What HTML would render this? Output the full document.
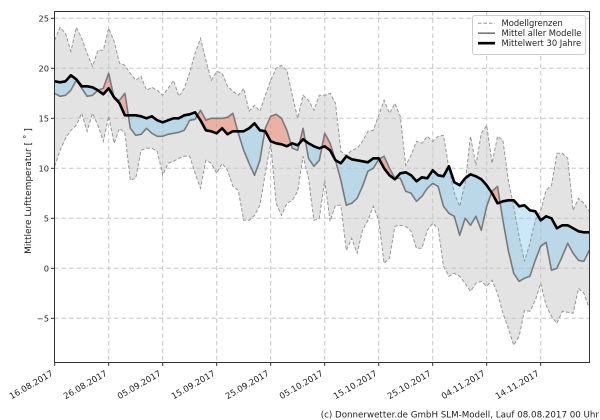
<!DOCTYPE html>
<html><head><meta charset="utf-8">
<style>html,body{margin:0;padding:0;background:#fff}svg{display:block}</style>
</head>
<body>
<svg width="600" height="420" viewBox="0 0 600 420" xmlns="http://www.w3.org/2000/svg" font-family="'DejaVu Sans','Liberation Sans',sans-serif">
<defs>
<clipPath id="plot"><rect x="54.5" y="11.5" width="535" height="351"/></clipPath>
<clipPath id="above" clipPathUnits="userSpaceOnUse"><polygon points="0,18.7 1,18.6 2,18.7 3,19.3 4,18.9 5,18.2 6,18.2 7,18.1 8,17.8 9,17.4 10,18 11,17.1 12,16.5 13,15.3 14,15.3 15,15.3 16,15.2 17,15 18,15.2 19,14.8 20,14.6 21,14.8 22,15 23,15 24,15.3 25,15.4 26,15.6 27,14.8 28,13.8 29,13.7 30,13.5 31,14 32,13.4 33,13.7 34,13.7 35,13.7 36,14 37,14.5 38,13.8 39,13.7 40,12.7 41,12.5 42,12.4 43,12.2 44,12.5 45,12.3 46,12.9 47,12.5 48,12.2 49,12 50,12.2 51,11.8 52,10.8 53,10.5 54,11.2 55,10.9 56,10.8 57,10.7 58,10.6 59,11 60,11 61,10 62,9.3 63,8.9 64,9.5 65,9.6 66,9.3 67,8.7 68,9.1 69,9 70,9.8 71,9.3 72,9.2 73,10.2 74,8.6 75,8.3 76,9 77,9.4 78,9.2 79,8.9 80,8.3 81,7.5 82,6.5 83,6.7 84,6.8 85,6.8 86,6.2 87,6.3 88,5.8 89,5.7 90,4.8 91,5.2 92,5 93,4 94,4.3 95,4.3 96,4 97,3.7 98,3.6 99,3.6 99,40 0,40"/></clipPath>
<clipPath id="below" clipPathUnits="userSpaceOnUse"><polygon points="0,18.7 1,18.6 2,18.7 3,19.3 4,18.9 5,18.2 6,18.2 7,18.1 8,17.8 9,17.4 10,18 11,17.1 12,16.5 13,15.3 14,15.3 15,15.3 16,15.2 17,15 18,15.2 19,14.8 20,14.6 21,14.8 22,15 23,15 24,15.3 25,15.4 26,15.6 27,14.8 28,13.8 29,13.7 30,13.5 31,14 32,13.4 33,13.7 34,13.7 35,13.7 36,14 37,14.5 38,13.8 39,13.7 40,12.7 41,12.5 42,12.4 43,12.2 44,12.5 45,12.3 46,12.9 47,12.5 48,12.2 49,12 50,12.2 51,11.8 52,10.8 53,10.5 54,11.2 55,10.9 56,10.8 57,10.7 58,10.6 59,11 60,11 61,10 62,9.3 63,8.9 64,9.5 65,9.6 66,9.3 67,8.7 68,9.1 69,9 70,9.8 71,9.3 72,9.2 73,10.2 74,8.6 75,8.3 76,9 77,9.4 78,9.2 79,8.9 80,8.3 81,7.5 82,6.5 83,6.7 84,6.8 85,6.8 86,6.2 87,6.3 88,5.8 89,5.7 90,4.8 91,5.2 92,5 93,4 94,4.3 95,4.3 96,4 97,3.7 98,3.6 99,3.6 99,-20 0,-20"/></clipPath>
</defs>
<rect width="600" height="420" fill="#fff"/>

<g clip-path="url(#plot)">
 <g transform="matrix(5.4 0 0 -10 54.7 268.3)">
  <polygon fill="#e3e3e3" points="0,22.8 1,24.1 2,23.5 3,21.7 4,24.1 5,23 6,21.5 7,20.2 8,21.8 9,21.8 10,24 11,22.7 12,20.5 13,20.3 14,19.5 15,18.8 16,19.2 17,17.8 18,18.1 19,17.8 20,17.3 21,18 22,18.8 23,17.2 24,18 25,19.6 26,21.5 27,23 28,20.8 29,18.8 30,19.7 31,19.5 32,18.2 33,17.7 34,17.3 35,18 36,15.7 37,16.3 38,15.7 39,17.3 40,18.8 41,20 42,20.3 43,19.8 44,17.3 45,15 46,17.3 47,16.8 48,15.8 49,17.3 50,17.3 51,17.5 52,16.5 53,11.7 54,11.3 55,11.8 56,12 57,12.7 58,13.7 59,13.8 60,15.3 61,16.8 62,15.5 63,16.5 64,15.2 65,10.3 66,11.3 67,12.7 68,12.5 69,13.2 70,12.7 71,13.2 72,13.3 73,10 74,7.5 75,6.2 76,8.5 77,13.2 78,10.3 79,13.5 80,14.3 81,10.5 82,13.2 83,12.8 84,8.8 85,6.2 86,3.2 87,0.7 88,2.5 89,4.8 90,5.8 91,7.8 92,8.3 93,11.5 94,11.5 95,11 96,5.8 97,7 98,6.5 99,5.7 99,-4 98,-2.5 97,-2 96,-4.5 95,-4.4 94,-4.3 93,-5.5 92,-4.8 91,-3.7 90,-1.5 89,-3.2 88,-4.3 87,-4.2 86,-6.8 85,-7.7 84,-6 83,-4.5 82,-2.5 81,-1.2 80,-1.8 79,-1.3 78,-1.5 77,-2.3 76,-1.5 75,-0.8 74,-0.5 73,-0.8 72,0.2 71,4 70,4.5 69,3.8 68,2 67,2 66,3.7 65,4.2 64,4.3 63,4.2 62,1 61,0.5 60,4.8 59,6.2 58,4.8 57,3.8 56,1.5 55,3 54,1.8 53,6.3 52,6.3 51,4.7 50,8.8 49,5 48,4.8 47,9 46,11.2 45,7.7 44,6.8 43,6.5 42,5.3 41,6.5 40,12.5 39,9.5 38,6.3 37,5.3 36,4.8 35,4.8 34,7.8 33,8.2 32,9.8 31,10.5 30,9.5 29,10.5 28,10.8 27,8 26,9.5 25,11.2 24,11.2 23,11 22,10.7 21,10.5 20,9.3 19,11.7 18,12 17,12 16,11.8 15,9 14,8.8 13,13.5 12,14 11,12.5 10,15.2 9,12.7 8,14.3 7,15.5 6,13.7 5,15.5 4,14.3 3,13.8 2,13 1,11.8 0,10.2"/>
 </g>

 <g stroke="#c6c6c6" stroke-width="1" stroke-dasharray="4.5,3" fill="none">
  <line x1="108.7" y1="11" x2="108.7" y2="363"/>
  <line x1="162.7" y1="11" x2="162.7" y2="363"/>
  <line x1="216.7" y1="11" x2="216.7" y2="363"/>
  <line x1="270.7" y1="11" x2="270.7" y2="363"/>
  <line x1="324.7" y1="11" x2="324.7" y2="363"/>
  <line x1="378.7" y1="11" x2="378.7" y2="363"/>
  <line x1="432.7" y1="11" x2="432.7" y2="363"/>
  <line x1="486.7" y1="11" x2="486.7" y2="363"/>
  <line x1="540.7" y1="11" x2="540.7" y2="363"/>
  <line x1="54" y1="18.3" x2="590" y2="18.3"/>
  <line x1="54" y1="68.3" x2="590" y2="68.3"/>
  <line x1="54" y1="118.3" x2="590" y2="118.3"/>
  <line x1="54" y1="168.3" x2="590" y2="168.3"/>
  <line x1="54" y1="218.3" x2="590" y2="218.3"/>
  <line x1="54" y1="268.3" x2="590" y2="268.3"/>
  <line x1="54" y1="318.3" x2="590" y2="318.3"/>
 </g>

 <g transform="matrix(5.4 0 0 -10 54.7 268.3)">
  <polygon fill="#80c8ec" fill-opacity="0.42" clip-path="url(#below)" points="0,17.5 1,17.2 2,17.3 3,17.8 4,18.8 5,18 6,17.2 7,17.3 8,17.8 9,18 10,19.5 11,17 12,16.8 13,17.5 14,14 15,13.3 16,13.4 17,14 18,13.5 19,13.2 20,13.2 21,13.4 22,13.5 23,13.6 24,13.8 25,14.8 26,14.9 27,15.8 28,14.8 29,15 30,15 31,15 32,15.1 33,15.5 34,13.5 35,11.8 36,10.5 37,9.3 38,10.8 39,14 40,15.2 41,15.4 42,15 43,13.8 44,12 45,11.8 46,14 47,11 48,10.2 49,10.8 50,13.5 51,12.5 52,10.8 53,8.8 54,6.3 55,6.5 56,7 57,8.2 58,9.7 59,10 60,10.9 61,11.2 62,10 63,9 64,9 65,7.7 66,7.5 67,6.7 68,7.2 69,8 70,8.5 71,8.2 72,6.2 73,5.5 74,5.2 75,3.3 76,5 77,4.3 78,5.2 79,3.8 80,6.2 81,7.7 82,8.2 83,4.8 84,1.8 85,-0.5 86,-1.3 87,-1 88,-0.8 89,0.8 90,2.2 91,2.6 92,-0.2 93,0 94,1.2 95,2.5 96,1.5 97,0.8 98,0.7 99,1.8 99,3.6 98,3.6 97,3.7 96,4 95,4.3 94,4.3 93,4 92,5 91,5.2 90,4.8 89,5.7 88,5.8 87,6.3 86,6.2 85,6.8 84,6.8 83,6.7 82,6.5 81,7.5 80,8.3 79,8.9 78,9.2 77,9.4 76,9 75,8.3 74,8.6 73,10.2 72,9.2 71,9.3 70,9.8 69,9 68,9.1 67,8.7 66,9.3 65,9.6 64,9.5 63,8.9 62,9.3 61,10 60,11 59,11 58,10.6 57,10.7 56,10.8 55,10.9 54,11.2 53,10.5 52,10.8 51,11.8 50,12.2 49,12 48,12.2 47,12.5 46,12.9 45,12.3 44,12.5 43,12.2 42,12.4 41,12.5 40,12.7 39,13.7 38,13.8 37,14.5 36,14 35,13.7 34,13.7 33,13.7 32,13.4 31,14 30,13.5 29,13.7 28,13.8 27,14.8 26,15.6 25,15.4 24,15.3 23,15 22,15 21,14.8 20,14.6 19,14.8 18,15.2 17,15 16,15.2 15,15.3 14,15.3 13,15.3 12,16.5 11,17.1 10,18 9,17.4 8,17.8 7,18.1 6,18.2 5,18.2 4,18.9 3,19.3 2,18.7 1,18.6 0,18.7"/>
  <polygon fill="#f47656" fill-opacity="0.45" clip-path="url(#above)" points="0,17.5 1,17.2 2,17.3 3,17.8 4,18.8 5,18 6,17.2 7,17.3 8,17.8 9,18 10,19.5 11,17 12,16.8 13,17.5 14,14 15,13.3 16,13.4 17,14 18,13.5 19,13.2 20,13.2 21,13.4 22,13.5 23,13.6 24,13.8 25,14.8 26,14.9 27,15.8 28,14.8 29,15 30,15 31,15 32,15.1 33,15.5 34,13.5 35,11.8 36,10.5 37,9.3 38,10.8 39,14 40,15.2 41,15.4 42,15 43,13.8 44,12 45,11.8 46,14 47,11 48,10.2 49,10.8 50,13.5 51,12.5 52,10.8 53,8.8 54,6.3 55,6.5 56,7 57,8.2 58,9.7 59,10 60,10.9 61,11.2 62,10 63,9 64,9 65,7.7 66,7.5 67,6.7 68,7.2 69,8 70,8.5 71,8.2 72,6.2 73,5.5 74,5.2 75,3.3 76,5 77,4.3 78,5.2 79,3.8 80,6.2 81,7.7 82,8.2 83,4.8 84,1.8 85,-0.5 86,-1.3 87,-1 88,-0.8 89,0.8 90,2.2 91,2.6 92,-0.2 93,0 94,1.2 95,2.5 96,1.5 97,0.8 98,0.7 99,1.8 99,3.6 98,3.6 97,3.7 96,4 95,4.3 94,4.3 93,4 92,5 91,5.2 90,4.8 89,5.7 88,5.8 87,6.3 86,6.2 85,6.8 84,6.8 83,6.7 82,6.5 81,7.5 80,8.3 79,8.9 78,9.2 77,9.4 76,9 75,8.3 74,8.6 73,10.2 72,9.2 71,9.3 70,9.8 69,9 68,9.1 67,8.7 66,9.3 65,9.6 64,9.5 63,8.9 62,9.3 61,10 60,11 59,11 58,10.6 57,10.7 56,10.8 55,10.9 54,11.2 53,10.5 52,10.8 51,11.8 50,12.2 49,12 48,12.2 47,12.5 46,12.9 45,12.3 44,12.5 43,12.2 42,12.4 41,12.5 40,12.7 39,13.7 38,13.8 37,14.5 36,14 35,13.7 34,13.7 33,13.7 32,13.4 31,14 30,13.5 29,13.7 28,13.8 27,14.8 26,15.6 25,15.4 24,15.3 23,15 22,15 21,14.8 20,14.6 19,14.8 18,15.2 17,15 16,15.2 15,15.3 14,15.3 13,15.3 12,16.5 11,17.1 10,18 9,17.4 8,17.8 7,18.1 6,18.2 5,18.2 4,18.9 3,19.3 2,18.7 1,18.6 0,18.7"/>

  <polyline fill="none" stroke="#7a7a7a" stroke-width="1.6" stroke-linejoin="round" vector-effect="non-scaling-stroke" points="0,17.5 1,17.2 2,17.3 3,17.8 4,18.8 5,18 6,17.2 7,17.3 8,17.8 9,18 10,19.5 11,17 12,16.8 13,17.5 14,14 15,13.3 16,13.4 17,14 18,13.5 19,13.2 20,13.2 21,13.4 22,13.5 23,13.6 24,13.8 25,14.8 26,14.9 27,15.8 28,14.8 29,15 30,15 31,15 32,15.1 33,15.5 34,13.5 35,11.8 36,10.5 37,9.3 38,10.8 39,14 40,15.2 41,15.4 42,15 43,13.8 44,12 45,11.8 46,14 47,11 48,10.2 49,10.8 50,13.5 51,12.5 52,10.8 53,8.8 54,6.3 55,6.5 56,7 57,8.2 58,9.7 59,10 60,10.9 61,11.2 62,10 63,9 64,9 65,7.7 66,7.5 67,6.7 68,7.2 69,8 70,8.5 71,8.2 72,6.2 73,5.5 74,5.2 75,3.3 76,5 77,4.3 78,5.2 79,3.8 80,6.2 81,7.7 82,8.2 83,4.8 84,1.8 85,-0.5 86,-1.3 87,-1 88,-0.8 89,0.8 90,2.2 91,2.6 92,-0.2 93,0 94,1.2 95,2.5 96,1.5 97,0.8 98,0.7 99,1.8"/>

  <polyline fill="none" stroke="#969696" stroke-width="1" stroke-dasharray="3.5,2" vector-effect="non-scaling-stroke" points="0,22.8 1,24.1 2,23.5 3,21.7 4,24.1 5,23 6,21.5 7,20.2 8,21.8 9,21.8 10,24 11,22.7 12,20.5 13,20.3 14,19.5 15,18.8 16,19.2 17,17.8 18,18.1 19,17.8 20,17.3 21,18 22,18.8 23,17.2 24,18 25,19.6 26,21.5 27,23 28,20.8 29,18.8 30,19.7 31,19.5 32,18.2 33,17.7 34,17.3 35,18 36,15.7 37,16.3 38,15.7 39,17.3 40,18.8 41,20 42,20.3 43,19.8 44,17.3 45,15 46,17.3 47,16.8 48,15.8 49,17.3 50,17.3 51,17.5 52,16.5 53,11.7 54,11.3 55,11.8 56,12 57,12.7 58,13.7 59,13.8 60,15.3 61,16.8 62,15.5 63,16.5 64,15.2 65,10.3 66,11.3 67,12.7 68,12.5 69,13.2 70,12.7 71,13.2 72,13.3 73,10 74,7.5 75,6.2 76,8.5 77,13.2 78,10.3 79,13.5 80,14.3 81,10.5 82,13.2 83,12.8 84,8.8 85,6.2 86,3.2 87,0.7 88,2.5 89,4.8 90,5.8 91,7.8 92,8.3 93,11.5 94,11.5 95,11 96,5.8 97,7 98,6.5 99,5.7"/>
  <polyline fill="none" stroke="#969696" stroke-width="1" stroke-dasharray="3.5,2" vector-effect="non-scaling-stroke" points="0,10.2 1,11.8 2,13 3,13.8 4,14.3 5,15.5 6,13.7 7,15.5 8,14.3 9,12.7 10,15.2 11,12.5 12,14 13,13.5 14,8.8 15,9 16,11.8 17,12 18,12 19,11.7 20,9.3 21,10.5 22,10.7 23,11 24,11.2 25,11.2 26,9.5 27,8 28,10.8 29,10.5 30,9.5 31,10.5 32,9.8 33,8.2 34,7.8 35,4.8 36,4.8 37,5.3 38,6.3 39,9.5 40,12.5 41,6.5 42,5.3 43,6.5 44,6.8 45,7.7 46,11.2 47,9 48,4.8 49,5 50,8.8 51,4.7 52,6.3 53,6.3 54,1.8 55,3 56,1.5 57,3.8 58,4.8 59,6.2 60,4.8 61,0.5 62,1 63,4.2 64,4.3 65,4.2 66,3.7 67,2 68,2 69,3.8 70,4.5 71,4 72,0.2 73,-0.8 74,-0.5 75,-0.8 76,-1.5 77,-2.3 78,-1.5 79,-1.3 80,-1.8 81,-1.2 82,-2.5 83,-4.5 84,-6 85,-7.7 86,-6.8 87,-4.2 88,-4.3 89,-3.2 90,-1.5 91,-3.7 92,-4.8 93,-5.5 94,-4.3 95,-4.4 96,-4.5 97,-2 98,-2.5 99,-4"/>

  <polyline fill="none" stroke="#000" stroke-width="2.6" stroke-linejoin="round" vector-effect="non-scaling-stroke" points="0,18.7 1,18.6 2,18.7 3,19.3 4,18.9 5,18.2 6,18.2 7,18.1 8,17.8 9,17.4 10,18 11,17.1 12,16.5 13,15.3 14,15.3 15,15.3 16,15.2 17,15 18,15.2 19,14.8 20,14.6 21,14.8 22,15 23,15 24,15.3 25,15.4 26,15.6 27,14.8 28,13.8 29,13.7 30,13.5 31,14 32,13.4 33,13.7 34,13.7 35,13.7 36,14 37,14.5 38,13.8 39,13.7 40,12.7 41,12.5 42,12.4 43,12.2 44,12.5 45,12.3 46,12.9 47,12.5 48,12.2 49,12 50,12.2 51,11.8 52,10.8 53,10.5 54,11.2 55,10.9 56,10.8 57,10.7 58,10.6 59,11 60,11 61,10 62,9.3 63,8.9 64,9.5 65,9.6 66,9.3 67,8.7 68,9.1 69,9 70,9.8 71,9.3 72,9.2 73,10.2 74,8.6 75,8.3 76,9 77,9.4 78,9.2 79,8.9 80,8.3 81,7.5 82,6.5 83,6.7 84,6.8 85,6.8 86,6.2 87,6.3 88,5.8 89,5.7 90,4.8 91,5.2 92,5 93,4 94,4.3 95,4.3 96,4 97,3.7 98,3.6 99,3.6"/>
 </g>
</g>

<!-- axes frame -->
<rect x="54.5" y="11.5" width="535" height="351" fill="none" stroke="#333" stroke-width="1"/>

<!-- ticks -->
<g stroke="#333" stroke-width="1">
 <line x1="51" y1="18.3" x2="54.5" y2="18.3"/>
 <line x1="51" y1="68.3" x2="54.5" y2="68.3"/>
 <line x1="51" y1="118.3" x2="54.5" y2="118.3"/>
 <line x1="51" y1="168.3" x2="54.5" y2="168.3"/>
 <line x1="51" y1="218.3" x2="54.5" y2="218.3"/>
 <line x1="51" y1="268.3" x2="54.5" y2="268.3"/>
 <line x1="51" y1="318.3" x2="54.5" y2="318.3"/>
 <line x1="54.7" y1="362.5" x2="54.7" y2="366"/>
 <line x1="108.7" y1="362.5" x2="108.7" y2="366"/>
 <line x1="162.7" y1="362.5" x2="162.7" y2="366"/>
 <line x1="216.7" y1="362.5" x2="216.7" y2="366"/>
 <line x1="270.7" y1="362.5" x2="270.7" y2="366"/>
 <line x1="324.7" y1="362.5" x2="324.7" y2="366"/>
 <line x1="378.7" y1="362.5" x2="378.7" y2="366"/>
 <line x1="432.7" y1="362.5" x2="432.7" y2="366"/>
 <line x1="486.7" y1="362.5" x2="486.7" y2="366"/>
 <line x1="540.7" y1="362.5" x2="540.7" y2="366"/>
</g>

<!-- y tick labels -->
<g font-size="8.3" fill="#222" text-anchor="end">
 <text x="49" y="21.3">25</text>
 <text x="49" y="71.3">20</text>
 <text x="49" y="121.3">15</text>
 <text x="49" y="171.3">10</text>
 <text x="49" y="221.3">5</text>
 <text x="49" y="271.3">0</text>
 <text x="49" y="321.3">−5</text>
</g>

<!-- x tick labels -->
<g font-size="8.5" fill="#222" text-anchor="end">
 <text transform="translate(53.7,375) rotate(-30)">16.08.2017</text>
 <text transform="translate(107.7,375) rotate(-30)">26.08.2017</text>
 <text transform="translate(161.7,375) rotate(-30)">05.09.2017</text>
 <text transform="translate(215.7,375) rotate(-30)">15.09.2017</text>
 <text transform="translate(269.7,375) rotate(-30)">25.09.2017</text>
 <text transform="translate(323.7,375) rotate(-30)">05.10.2017</text>
 <text transform="translate(377.7,375) rotate(-30)">15.10.2017</text>
 <text transform="translate(431.7,375) rotate(-30)">25.10.2017</text>
 <text transform="translate(485.7,375) rotate(-30)">04.11.2017</text>
 <text transform="translate(539.7,375) rotate(-30)">14.11.2017</text>
</g>

<!-- y axis label -->
<text transform="translate(31,191) rotate(-90)" text-anchor="middle" font-size="9" fill="#222">Mittlere Lufttemperatur [ ˚ ]</text>

<!-- legend -->
<rect x="472.5" y="15.5" width="113" height="39" rx="2.5" ry="2.5" fill="#fff" fill-opacity="0.85" stroke="#cccccc" stroke-width="1"/>
<line x1="478" y1="23.2" x2="495" y2="23.2" stroke="#969696" stroke-width="1" stroke-dasharray="3.5,2"/>
<line x1="478" y1="33.2" x2="495" y2="33.2" stroke="#7a7a7a" stroke-width="1.6"/>
<line x1="478" y1="43.2" x2="495" y2="43.2" stroke="#000" stroke-width="2.6"/>
<g font-size="8.4" fill="#222">
 <text x="501.5" y="26.2">Modellgrenzen</text>
 <text x="501.5" y="36.2">Mittel aller Modelle</text>
 <text x="501.5" y="46.2">Mittelwert 30 Jahre</text>
</g>

<!-- footer -->
<text x="599" y="417.5" text-anchor="end" font-size="8.7" fill="#222">(c) Donnerwetter.de GmbH SLM-Modell, Lauf 08.08.2017 00 Uhr</text>
</svg>
</body>
</html>
